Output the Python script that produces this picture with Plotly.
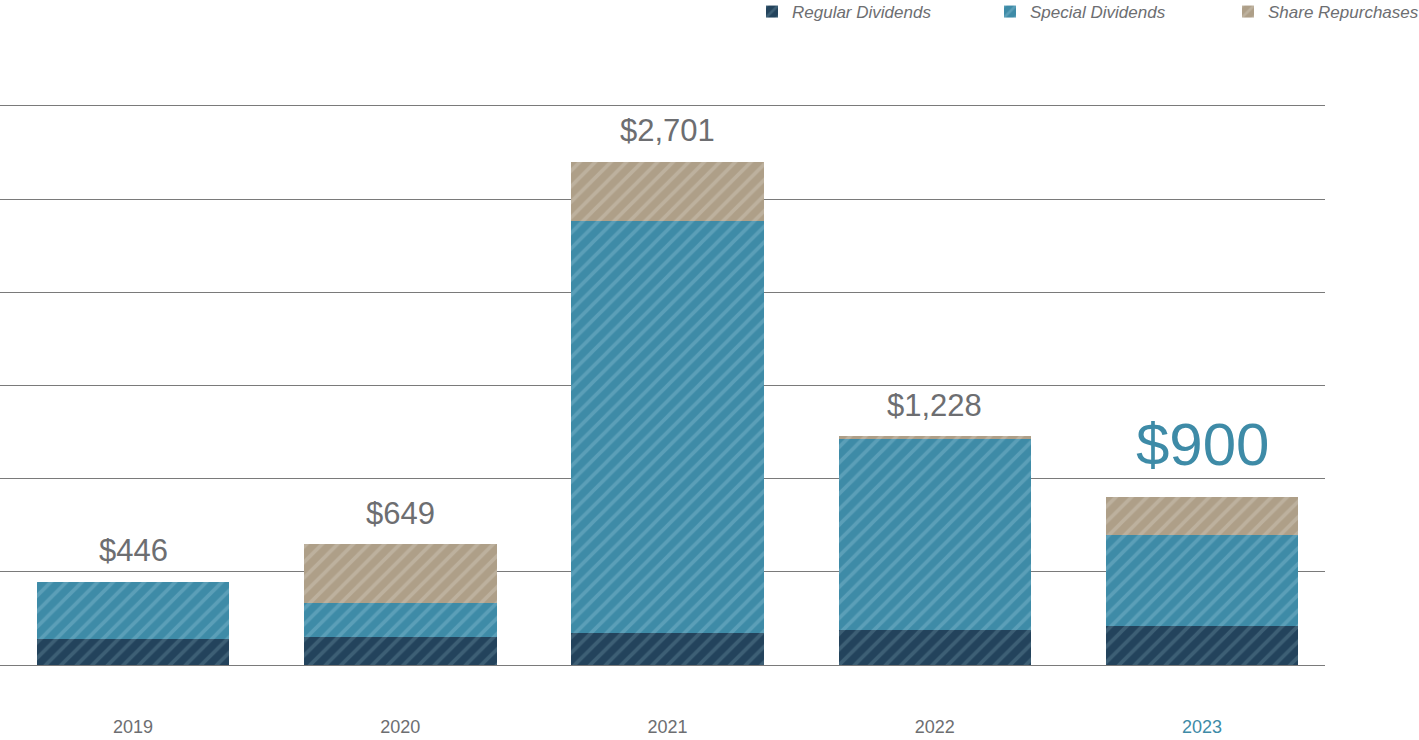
import plotly.graph_objects as go

years = ["2019", "2020", "2021", "2022", "2023"]
regular = [140, 148, 170, 190, 210]
special = [306, 185, 2210, 1022, 485]
repurchase = [0, 316, 321, 16, 205]
total_labels = ["$446", "$649", "$2,701", "$1,228", "$900"]

GRAY = "#6d6e71"
TEAL = "#3e8ba7"
NAVY = "#23435c"
TAN = "#ae9f88"
FONT = "Liberation Sans"

xs = list(range(len(years)))
series = [
    ("Regular Dividends", regular, NAVY, "#3d5f75"),
    ("Special Dividends", special, TEAL, "#5b9fb8"),
    ("Share Repurchases", repurchase, TAN, "#bdb19e"),
]

fig = go.Figure()
for name, vals, col, fg in series:
    fig.add_trace(go.Bar(
        x=xs, y=vals, name=name, width=0.72,
        marker=dict(color=col, line=dict(width=0),
                    pattern=dict(shape="/", fgcolor=fg, bgcolor=col,
                                 size=11, solidity=0.33, fillmode="replace")),
        hoverinfo="skip",
    ))

totals = [a + b + c for a, b, c in zip(regular, special, repurchase)]
for i, (t, lab) in enumerate(zip(totals, total_labels)):
    last = i == len(years) - 1
    fig.add_annotation(
        x=xs[i], y=t, text=lab, showarrow=False, xref="x", yref="y",
        yanchor="middle", yshift=53 if last else 31,
        font=dict(family=FONT, size=60 if last else 31, color=TEAL if last else GRAY),
    )

ticktext = [y if i < len(years) - 1 else f"<span style='color:{TEAL}'>{y}</span>"
            for i, y in enumerate(years)]

fig.update_layout(
    width=1419, height=740,
    margin=dict(l=0, r=94, t=104, b=75),
    barmode="stack",
    plot_bgcolor="white", paper_bgcolor="white",
    font=dict(family=FONT, color=GRAY),
    legend=dict(
        orientation="h", xref="container", yref="container",
        x=752 / 1419, xanchor="left", y=1 - 12 / 740, yanchor="middle",
        font=dict(family=FONT, size=17, color=GRAY, style="italic"),
        entrywidth=193, entrywidthmode="pixels", traceorder="normal",
    ),
    xaxis=dict(
        range=[-0.498, 4.46], tickvals=xs, ticktext=ticktext,
        showgrid=False, zeroline=False, showline=False, ticks="",
        tickfont=dict(family=FONT, size=18, color=GRAY), ticklabelstandoff=49,
    ),
    yaxis=dict(
        range=[0, 3010], dtick=500, tick0=0, showticklabels=False,
        showgrid=True, gridcolor="#7a7a7a", gridwidth=1,
        zeroline=True, zerolinecolor="#7a7a7a", zerolinewidth=1,
        showline=False, ticks="",
    ),
)

fig.write_html("out.html", config={"displayModeBar": False},
               post_script="document.body.style.margin='0';")
